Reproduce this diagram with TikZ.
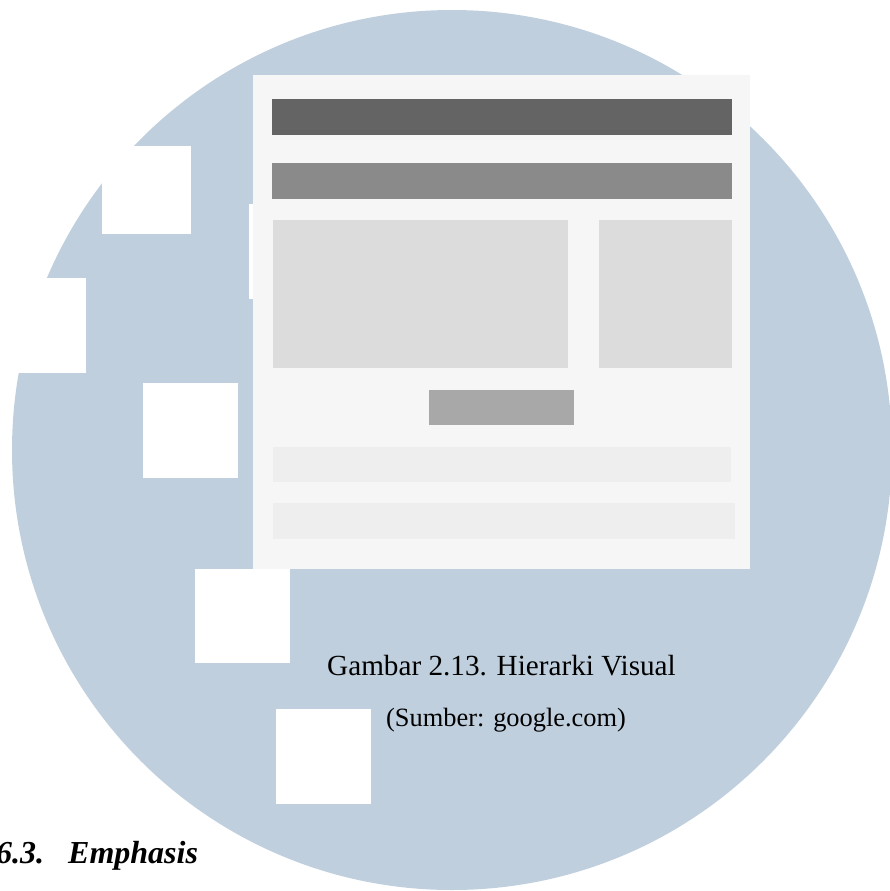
\documentclass[tikz,border=0pt]{standalone}
\usepackage{fontspec}
\setmainfont{Liberation Serif}
\definecolor{disc}{HTML}{BFCFDD}
\definecolor{pagebg}{HTML}{F6F6F6}
\definecolor{barA}{HTML}{646464}
\definecolor{barB}{HTML}{8A8A8A}
\definecolor{block}{HTML}{DCDCDC}
\definecolor{button}{HTML}{A8A8A8}
\definecolor{strip}{HTML}{EEEEEE}
\tikzset{
  tile/.style={fill=white, draw=none},
  part/.style={draw=none},
  caption/.style={inner sep=0pt, anchor=base west, text=black}
}
\begin{document}
\begin{tikzpicture}[x=1pt, y=-1pt]
  \useasboundingbox (0,0) rectangle (890,891);
  \begin{scope}
    \clip (0,0) rectangle (890,891);
    % backdrop disc
    \fill[disc] (452,450) circle[radius=440];
    % white tiles cut into the disc
    \fill[tile] (102,146) rectangle (191,234);
    \fill[tile] (-9,278) rectangle (86,373);
    \fill[tile] (143,383) rectangle (238,478);
    \fill[tile] (195,569) rectangle (290,663);
    \fill[tile] (276,709) rectangle (371,804);
    \fill[tile] (249,204) rectangle (260,299);
    % page mock-up
    \fill[pagebg] (253,75) rectangle (750,569);
    \fill[barA] (272,99) rectangle (732,135);
    \fill[barB] (272,163) rectangle (732,199);
    \fill[block] (273,220) rectangle (568,368);
    \fill[block] (599,220) rectangle (732,368);
    \fill[button] (429,390) rectangle (574,425);
    \fill[strip] (273,447) rectangle (731,482);
    \fill[strip] (273,503) rectangle (735,539);
    % captions
    \node[caption, font=\fontsize{29.2}{32}\selectfont] (fig) at (327,675) {Gambar 2.13. Hierarki Visual};
    \node[caption, font=\fontsize{26.4}{28}\selectfont] (src) at (386,726) {(Sumber: google.com)};
    \node[caption, font=\fontsize{32}{34}\selectfont\bfseries\itshape] (num) at (-4,863) {6.3.};
    \node[caption, font=\fontsize{32}{34}\selectfont\bfseries\itshape] (head) at (68,863) {Emphasis};
  \end{scope}
\end{tikzpicture}
\end{document}
